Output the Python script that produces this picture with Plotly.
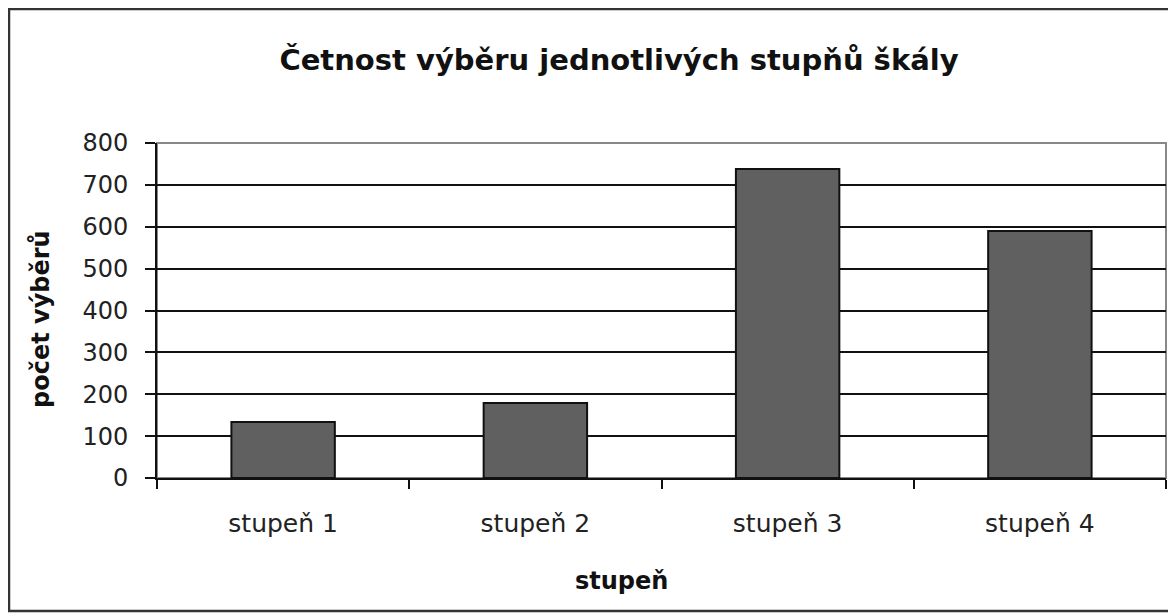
import plotly.graph_objects as go

categories = ["stupeň 1", "stupeň 2", "stupeň 3", "stupeň 4"]
counts = [134, 179, 738, 590]
y_ticks = [0, 100, 200, 300, 400, 500, 600, 700, 800]

# the page body adds an 8px offset; figure coordinates = page coordinates - 8
OFF = 8
W, H = 1176 - OFF, 616 - OFF
L, T = 157 - OFF, 143 - OFF
R = W - (1166 - OFF)
B = H - (478 - OFF)
pw = W - L - R
ph = H - T - B

def px_x(px):
    return (px - OFF - L) / pw

def px_y(py):
    return (H - B - (py - OFF)) / ph

fig = go.Figure(go.Bar(
    x=categories, y=counts,
    marker=dict(color="#606060", line=dict(color="#111111", width=2)),
    width=0.41,
))

fig.update_layout(
    width=W, height=H,
    margin=dict(l=L, r=R, t=T, b=B),
    paper_bgcolor="white", plot_bgcolor="white",
    showlegend=False,
    font=dict(family="DejaVu Sans", color="#1a1a1a"),
    title=dict(text="<b>Četnost výběru jednotlivých stupňů škály</b>",
               x=(619 - OFF) / W, xref="container", xanchor="center",
               y=1 - (60 - OFF) / H, yref="container", yanchor="middle",
               font=dict(family="DejaVu Sans", size=29, color="#111111")),
    xaxis=dict(showline=True, linecolor="#111111", linewidth=2,
               ticks="outside", tickson="boundaries", ticklen=9, tickwidth=2,
               tickcolor="#111111",
               tickfont=dict(size=25, color="#222222"),
               ticklabelstandoff=22, showgrid=False, fixedrange=True),
    yaxis=dict(range=[0, 800], tickvals=y_ticks, showline=True,
               linecolor="#111111", linewidth=2,
               ticks="outside", ticklen=10, tickwidth=2, tickcolor="#111111",
               tickfont=dict(size=24, color="#222222"), ticklabelstandoff=12,
               showgrid=True, gridcolor="#111111", gridwidth=2,
               zeroline=False, fixedrange=True),
    bargap=0.59,
)

# plot-area border (grey) and outer frame
fig.add_shape(type="rect", xref="paper", yref="paper", x0=0, x1=1, y0=0, y1=1,
              line=dict(color="#888888", width=2), layer="below")
fig.add_shape(type="rect", xref="paper", yref="paper",
              x0=px_x(OFF + 1), x1=px_x(1180), y0=px_y(611), y1=px_y(OFF + 1),
              line=dict(color="#333333", width=2.5))

fig.add_annotation(text="<b>počet výběrů</b>", xref="paper", yref="paper",
                   x=px_x(41), y=px_y(319), textangle=-90, showarrow=False,
                   xanchor="center", yanchor="middle",
                   font=dict(family="DejaVu Sans", size=24, color="#111111"))
fig.add_annotation(text="<b>stupeň</b>", xref="paper", yref="paper",
                   x=px_x(621), y=px_y(581), showarrow=False,
                   xanchor="center", yanchor="middle",
                   font=dict(family="DejaVu Sans", size=24, color="#111111"))

fig.write_html("out.html")
